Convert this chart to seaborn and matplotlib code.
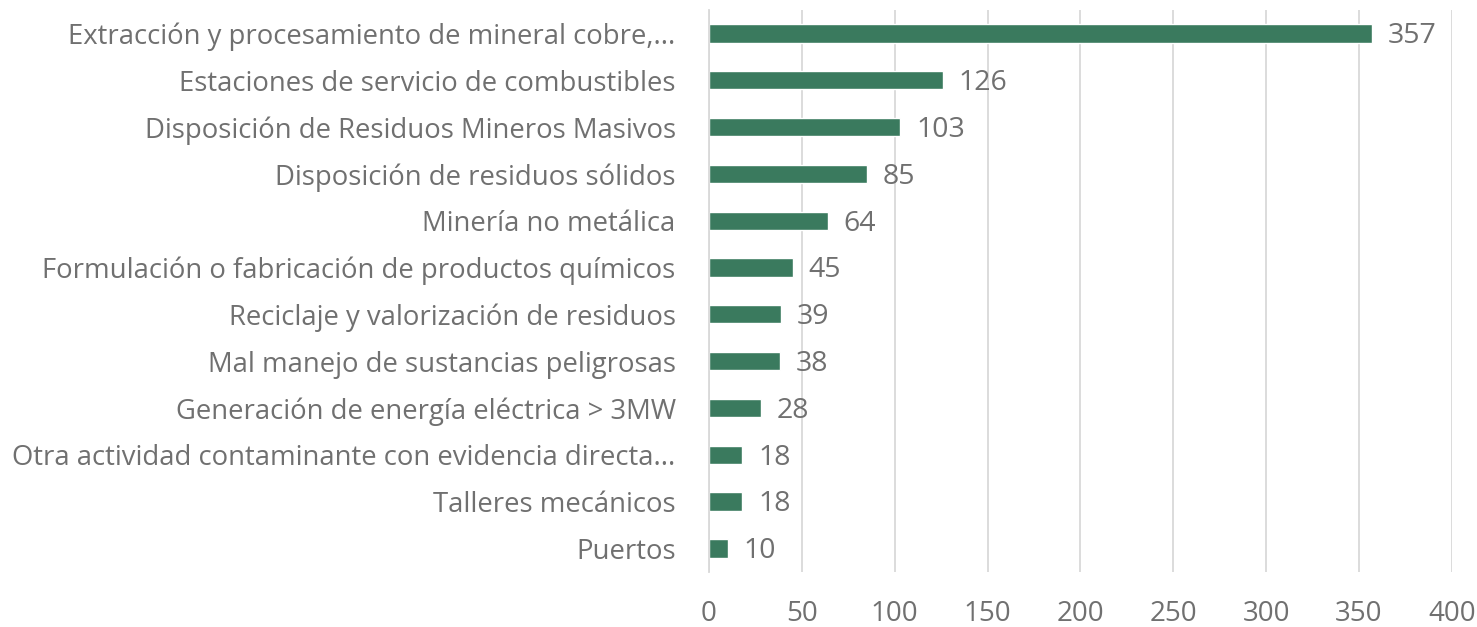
import matplotlib
matplotlib.use("Agg")
import matplotlib.pyplot as plt
import seaborn as sns
import pandas as pd

categorias = [
    "Extracción y procesamiento de mineral cobre,...",
    "Estaciones de servicio de combustibles",
    "Disposición de Residuos Mineros Masivos",
    "Disposición de residuos sólidos",
    "Minería no metálica",
    "Formulación o fabricación de productos químicos",
    "Reciclaje y valorización de residuos",
    "Mal manejo de sustancias peligrosas",
    "Generación de energía eléctrica > 3MW",
    "Otra actividad contaminante con evidencia directa...",
    "Talleres mecánicos",
    "Puertos",
]
valores = [357, 126, 103, 85, 64, 45, 39, 38, 28, 18, 18, 10]
ticks_x = [0, 50, 100, 150, 200, 250, 300, 350, 400]

df = pd.DataFrame({"actividad": categorias, "n": valores})

sns.set_style("white")
plt.rcParams["font.family"] = ["Open Sans", "DejaVu Sans"]

gris = "#707070"
verde = "#3a7a5e"

fig = plt.figure(figsize=(14.77, 6.27), dpi=100)
ax = fig.add_axes([0.48, 0.088, 0.503, 0.896])

sns.barplot(data=df, y="actividad", x="n", color=verde, width=0.39,
            saturation=1, ax=ax, orient="h")

for i, v in enumerate(valores):
    ax.text(v + 8.5, i + 0.06, str(v), va="center", ha="left", fontsize=20.5, color=gris)

ax.set_xlim(0, 400)
ax.set_xticks(ticks_x)
ax.set_xticklabels([str(t) for t in ticks_x])
ax.set_ylim(11.5, -0.5)
ax.set_xlabel("")
ax.set_ylabel("")
ax.xaxis.grid(True, color="#d9d9d9", linewidth=1.3)
ax.set_axisbelow(True)
for s in ["top", "right", "bottom"]:
    ax.spines[s].set_visible(False)
ax.spines["left"].set_color("#d9d9d9")
ax.spines["left"].set_linewidth(1.3)
ax.tick_params(axis="x", length=0, pad=20, labelsize=20, labelcolor=gris)
ax.tick_params(axis="y", length=0, pad=24, labelsize=19.8, labelcolor=gris)

fig.savefig("out.png", dpi=100)
